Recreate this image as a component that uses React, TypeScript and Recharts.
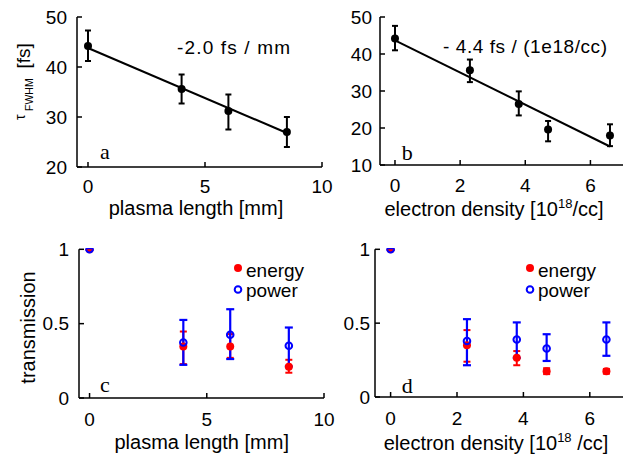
import { ScatterChart, Scatter, XAxis, YAxis, ErrorBar, Legend } from 'recharts';

const FONT = 'Liberation Sans, Arial, sans-serif';
const SERIF = 'Liberation Serif, Times New Roman, serif';

// (a) pulse duration vs plasma length
const lengthA = [0, 4.0, 6.0, 8.5];
const tauA = [44.2, 35.6, 31.2, 27.0];
const tauAHi = [47.3, 38.5, 34.5, 30.0];
const tauALo = [41.2, 32.7, 27.5, 24.0];
const fitAx = [0, 8.5];
const fitAy = [43.8, 26.8];

// (b) pulse duration vs electron density
const densityB = [0, 2.3, 3.8, 4.7, 6.6];
const tauB = [44.2, 35.6, 26.5, 19.6, 18.0];
const tauBHi = [47.6, 38.5, 29.9, 21.9, 21.0];
const tauBLo = [41.0, 32.4, 23.4, 16.4, 15.1];
const fitBx = [0, 6.6];
const fitBy = [43.7, 15.0];

// (c) transmission vs plasma length
const lengthC = [0, 4.0, 6.0, 8.5];
const energyC = [1, 0.347, 0.347, 0.21];
const energyCHi = [1, 0.447, 0.43, 0.257];
const energyCLo = [1, 0.228, 0.27, 0.17];
const powerC = [1, 0.373, 0.425, 0.351];
const powerCHi = [1, 0.525, 0.597, 0.474];
const powerCLo = [1, 0.223, 0.262, 0.212];

// (d) transmission vs electron density
const densityD = [0, 2.3, 3.8, 4.7, 6.5];
const energyD = [1, 0.351, 0.265, 0.174, 0.174];
const energyDHi = [1, 0.453, 0.311, 0.195, 0.19];
const energyDLo = [1, 0.239, 0.215, 0.155, 0.158];
const powerD = [1, 0.379, 0.389, 0.328, 0.389];
const powerDHi = [1, 0.527, 0.505, 0.425, 0.505];
const powerDLo = [1, 0.215, 0.265, 0.244, 0.279];

const lengthTicks = [0, 5, 10];
const densityTicks = [0, 2, 4, 6];
const tauATicks = [20, 30, 40, 50];
const tauBTicks = [10, 20, 30, 40, 50];
const transTicks = [0, 0.5, 1];

const pts = (xs: number[], ys: number[], hi?: number[], lo?: number[]) =>
  xs.map((x, i) => ({
    x,
    y: ys[i],
    err: hi && lo ? [ys[i] - lo[i], hi[i] - ys[i]] : [0, 0],
  }));

const dataA = pts(lengthA, tauA, tauAHi, tauALo);
const dataB = pts(densityB, tauB, tauBHi, tauBLo);
const lineA = pts(fitAx, fitAy);
const lineB = pts(fitBx, fitBy);
const energyCData = pts(lengthC, energyC, energyCHi, energyCLo);
const powerCData = pts(lengthC, powerC, powerCHi, powerCLo);
const energyDData = pts(densityD, energyD, energyDHi, energyDLo);
const powerDData = pts(densityD, powerD, powerDHi, powerDLo);

const tickStyle = { fill: '#000', fontSize: 19, fontFamily: FONT };

function frame(o: {
  xDomain: number[];
  xTicks: number[];
  yDomain: number[];
  yTicks: number[];
  yWidth: number;
  xHeight: number;
  yMargin: number;
  xMargin: number;
}) {
  const common = {
    type: 'number' as const,
    stroke: '#000',
    strokeWidth: 1.5,
    tickSize: -5,
    allowDataOverflow: true,
    interval: 0 as const,
  };
  return [
    <XAxis key="xb" xAxisId="x" dataKey="x" domain={o.xDomain} ticks={o.xTicks} height={o.xHeight}
      tickMargin={o.xMargin} tick={tickStyle} {...common} />,
    <XAxis key="xt" xAxisId="xt" orientation="top" domain={o.xDomain} ticks={o.xTicks} height={0}
      tick={false} {...common} />,
    <YAxis key="yl" yAxisId="y" dataKey="y" domain={o.yDomain} ticks={o.yTicks} width={o.yWidth}
      tickMargin={o.yMargin} tick={tickStyle} {...common} />,
    <YAxis key="yr" yAxisId="yr" orientation="right" domain={o.yDomain} ticks={o.yTicks} width={0}
      tick={false} {...common} />,
  ];
}

const dot = (color: string) => (p: any) => <circle cx={p.cx} cy={p.cy} r={4} fill={color} />;
const ring = (color: string) => (p: any) => (
  <circle cx={p.cx} cy={p.cy} r={3.3} fill="none" stroke={color} strokeWidth={2} />
);
const none = () => <g />;

const legendContent = (props: any) => {
  const items = props.payload || [];
  return (
    <svg width={90} height={48}>
      {items.map((it: any, i: number) => (
        <g key={it.value}>
          {i === 0 ? (
            <circle cx={8} cy={10 + i * 22} r={4} fill={it.color} />
          ) : (
            <circle cx={8} cy={10 + i * 21.5} r={3.3} fill="none" stroke={it.color} strokeWidth={2} />
          )}
          <text x={16} y={18.5 + i * 20} fontSize={19} fontFamily={FONT} fill="#000">
            {it.value}
          </text>
        </g>
      ))}
    </svg>
  );
};

export default function App() {
  return (
    <div style={{ position: 'absolute', left: 0, top: 0, width: 641, height: 456, background: '#fff' }}>
      {/* a */}
      <div style={{ position: 'absolute', left: 0, top: 0 }}>
        <ScatterChart width={335} height={230} margin={{ top: 17, right: 13, bottom: 0, left: 0 }}>
          {frame({ xDomain: [-0.47, 10], xTicks: lengthTicks, yDomain: [20, 50], yTicks: tauATicks,
            yWidth: 77, xHeight: 63, yMargin: 15, xMargin: 18 })}
          <Scatter data={lineA} xAxisId="x" yAxisId="y" fill="#000" line={{ stroke: '#000', strokeWidth: 2 }}
            shape={none} isAnimationActive={false} />
          <Scatter data={dataA} xAxisId="x" yAxisId="y" fill="#000" shape={dot('#000')} isAnimationActive={false}>
            <ErrorBar dataKey="err" direction="y" width={3} stroke="#000" strokeWidth={2} />
          </Scatter>
          <text x={177} y={54} fontSize={19} fontFamily={FONT} textLength={113} lengthAdjust="spacing">-2.0 fs / mm</text>
          <text x={100} y={159} fontSize={22} fontFamily={SERIF}>a</text>
          <text x={196} y={215} fontSize={20} fontFamily={FONT} textAnchor="middle">plasma length [mm]</text>
          <text transform="rotate(-90)" fontFamily={FONT} fill="#000">
            <tspan x={-120} y={25} fontSize={14}>τ</tspan>
            <tspan x={-111} y={33} fontSize={10.5}>FWHM</tspan>
            <tspan x={-68.5} y={30} fontSize={19}>[fs]</tspan>
          </text>
        </ScatterChart>
      </div>
      {/* b */}
      <div style={{ position: 'absolute', left: 320, top: 0 }}>
        <ScatterChart width={321} height={230} margin={{ top: 17, right: 18, bottom: 0, left: 0 }}>
          {frame({ xDomain: [-0.46, 7], xTicks: densityTicks, yDomain: [10, 50], yTicks: tauBTicks,
            yWidth: 60, xHeight: 65, yMargin: 13, xMargin: 19 })}
          <Scatter data={lineB} xAxisId="x" yAxisId="y" fill="#000" line={{ stroke: '#000', strokeWidth: 2 }}
            shape={none} isAnimationActive={false} />
          <Scatter data={dataB} xAxisId="x" yAxisId="y" fill="#000" shape={dot('#000')} isAnimationActive={false}>
            <ErrorBar dataKey="err" direction="y" width={3} stroke="#000" strokeWidth={2} />
          </Scatter>
          <text x={123} y={53} fontSize={19} fontFamily={FONT} textLength={164} lengthAdjust="spacing">- 4.4 fs / (1e18/cc)</text>
          <text x={81.7} y={160} fontSize={22} fontFamily={SERIF}>b</text>
          <text x={174} y={216} fontSize={20} fontFamily={FONT} textAnchor="middle">
            electron density [10<tspan fontSize={13} dy={-8}>18</tspan><tspan dy={8}>/cc]</tspan>
          </text>
        </ScatterChart>
      </div>
      {/* c */}
      <div style={{ position: 'absolute', left: 0, top: 230 }}>
        <ScatterChart width={335} height={226} margin={{ top: 19.3, right: 11, bottom: 0, left: 0 }}>
          {frame({ xDomain: [-0.45, 10], xTicks: lengthTicks, yDomain: [0, 1], yTicks: transTicks,
            yWidth: 79, xHeight: 58, yMargin: 15, xMargin: 20 })}
          <Scatter name="energy" data={energyCData} xAxisId="x" yAxisId="y" fill="#ff0000" shape={dot('#ff0000')}
            isAnimationActive={false}>
            <ErrorBar dataKey="err" direction="y" width={3.5} stroke="#ff0000" strokeWidth={2} />
          </Scatter>
          <Scatter name="power" data={powerCData} xAxisId="x" yAxisId="y" fill="#0000ff" shape={ring('#0000ff')}
            isAnimationActive={false}>
            <ErrorBar dataKey="err" direction="y" width={4} stroke="#0000ff" strokeWidth={2.2} />
          </Scatter>
          <Legend layout="vertical" align="center" verticalAlign="middle" content={legendContent}
            wrapperStyle={{ left: 230, top: 28, width: 90, height: 48 }} />
          <text x={100} y={162} fontSize={22} fontFamily={SERIF}>c</text>
          <text x={201.7} y={219} fontSize={20} fontFamily={FONT} textAnchor="middle">plasma length [mm]</text>
          <text transform="rotate(-90)" x={-97.5} y={35} fontSize={20} fontFamily={FONT} textAnchor="middle">transmission</text>
        </ScatterChart>
      </div>
      {/* d */}
      <div style={{ position: 'absolute', left: 320, top: 230 }}>
        <ScatterChart width={321} height={226} margin={{ top: 19.3, right: 18, bottom: 0, left: 0 }}>
          {frame({ xDomain: [-0.47, 7], xTicks: densityTicks, yDomain: [0, 1], yTicks: transTicks,
            yWidth: 55, xHeight: 59, yMargin: 10, xMargin: 20 })}
          <Scatter name="energy" data={energyDData} xAxisId="x" yAxisId="y" fill="#ff0000" shape={dot('#ff0000')}
            isAnimationActive={false}>
            <ErrorBar dataKey="err" direction="y" width={3.5} stroke="#ff0000" strokeWidth={2} />
          </Scatter>
          <Scatter name="power" data={powerDData} xAxisId="x" yAxisId="y" fill="#0000ff" shape={ring('#0000ff')}
            isAnimationActive={false}>
            <ErrorBar dataKey="err" direction="y" width={4} stroke="#0000ff" strokeWidth={2.2} />
          </Scatter>
          <Legend layout="vertical" align="center" verticalAlign="middle" content={legendContent}
            wrapperStyle={{ left: 202, top: 28, width: 90, height: 48 }} />
          <text x={81.7} y={163} fontSize={22} fontFamily={SERIF}>d</text>
          <text x={176} y={220} fontSize={20} fontFamily={FONT} textAnchor="middle">
            electron density [10<tspan fontSize={13} dy={-8}>18</tspan><tspan dy={8}> /cc]</tspan>
          </text>
        </ScatterChart>
      </div>
    </div>
  );
}
